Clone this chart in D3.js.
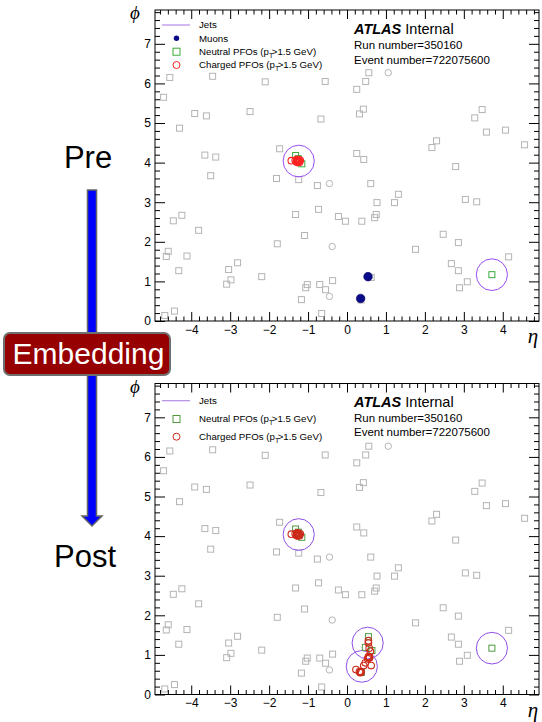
<!DOCTYPE html>
<html><head><meta charset="utf-8">
<script src="https://cdn.jsdelivr.net/npm/d3@7"></script>
<style>
html,body{margin:0;padding:0;background:#fff;}
svg{display:block;font-family:"Liberation Sans",Arial,Helvetica,sans-serif;}
</style></head>
<body>
<svg id="c" width="542" height="722"></svg>
<script>
// ---------------- data ----------------
const etaDomain = [-4.93, 4.93];
const phiDomain = [0, 7.854];
const xTickLabels = [-4, -3, -2, -1, 0, 1, 2, 3, 4];
const yTickLabels = [0, 1, 2, 3, 4, 5, 6, 7];
const jetRadius = 0.4;

// low-pT neutral PFOs (grey squares), common to both events
const greyNeutral = [
 [-4.55,6.15],[-3.45,6.18],[-2.10,6.04],[-0.56,6.05],[0.56,6.27],[0.48,6.05],[0.25,5.85],
 [-4.71,5.65],[-3.91,5.24],[-3.61,5.18],[-2.49,5.29],[-0.67,5.10],[0.42,5.35],[0.32,5.23],
 [3.47,5.34],[3.28,5.13],[-4.30,4.87],[3.58,4.77],[4.07,4.82],[4.56,4.45],[2.30,4.55],
 [2.18,4.38],[-1.73,4.35],[-3.65,4.19],[-3.37,4.14],[0.25,4.23],[0.43,4.08],[2.79,3.90],
 [-3.50,3.67],[-1.81,3.60],[-1.24,3.57],[-0.76,3.42],[0.61,3.47],[1.32,3.20],[0.77,2.99],
 [1.22,2.99],[3.04,3.07],[3.33,3.01],[-0.73,2.82],[-1.32,2.69],[-0.22,2.64],[-0.04,2.52],
 [0.38,2.52],[0.75,2.69],[0.71,2.61],[-4.24,2.67],[-4.46,2.53],[-3.81,2.29],[-1.09,2.16],
 [-1.79,1.95],[2.47,2.19],[2.86,1.98],[1.76,1.81],[-4.64,1.63],[-4.59,1.76],[-4.11,1.64],
 [4.15,1.62],[-2.81,1.47],[2.68,1.45],[-3.04,1.30],[-4.32,1.27],[2.86,1.27],[-2.19,1.12],
 [-2.98,1.04],[-3.09,0.93],[-1.02,0.92],[-1.06,0.84],[-0.70,0.92],[-0.55,0.79],[-0.37,1.02],
 [-1.17,0.54],[3.09,0.99],[2.89,0.84],[-4.68,0.14],[-4.43,0.25],[-0.65,0.19]
];
// low-pT charged PFOs (grey circles)
const greyCharged = [[1.06,6.27],[-0.45,3.47],[-0.38,1.88],[-0.45,0.62]];
// grey PFOs under the muons (pre only)
const preGreyNeutral = [[0.62,1.10],[0.36,0.53]];

// jets
const preJets = [[-1.24,4.04],[3.72,1.17]];
const postJets = [[-1.24,4.04],[0.53,1.30],[0.38,0.71],[3.72,1.17]];

// muons (pre only)
const muons = [[0.54,1.12],[0.35,0.57]];

// hard PFOs common to both
const hardNeutral = [[-1.32,4.18],[-1.25,4.10],[-1.16,3.97],[3.72,1.17]];
const hardCharged = [[-1.43,4.05],[-1.33,4.06],[-1.28,4.08],[-1.24,4.03],[-1.20,4.06],[-1.22,4.01],
 [-1.30,4.02],[-1.26,4.05],[-1.27,4.00],[-1.23,4.07],[-1.29,4.05]];
// hard PFOs from the embedded objects (post only)
const postNeutral = [[0.55,1.46],[0.47,1.19],[0.64,1.11],[0.37,0.56]];
const postCharged = [[0.55,1.36],[0.55,1.30],[0.57,1.17],[0.60,1.09],[0.57,0.95],[0.53,0.90],[0.56,0.92],
 [0.58,0.93],[0.55,0.96],[0.47,0.80],[0.43,0.73],[0.62,0.73],[0.23,0.63],[0.32,0.58],[0.36,0.56],
 [0.34,0.55],[0.35,0.58]];

const runText = "Run number=350160";
const eventText = "Event number=722075600";

// ---------------- drawing ----------------
const svg = d3.select("#c");

function drawPanel(cfg){
  const g = svg.append("g");
  const x = d3.scaleLinear().domain(etaDomain).range([155, 539]);
  const y = d3.scaleLinear().domain(phiDomain).range([cfg.y1, cfg.y0]);
  const clipId = "clip" + cfg.id;
  g.append("clipPath").attr("id", clipId).append("rect")
    .attr("x", 155).attr("y", cfg.y0).attr("width", 384).attr("height", cfg.y1 - cfg.y0);
  const plot = g.append("g").attr("clip-path", `url(#${clipId})`);

  const sq = 6;
  function squares(data, color){
    plot.append("g").selectAll("rect").data(data).join("rect")
      .attr("x", d => x(d[0]) - sq/2).attr("y", d => y(d[1]) - sq/2)
      .attr("width", sq).attr("height", sq)
      .attr("fill", "none").attr("stroke", color).attr("stroke-width", 1);
  }
  function circles(data, color, r, w){
    plot.append("g").selectAll("circle").data(data).join("circle")
      .attr("cx", d => x(d[0])).attr("cy", d => y(d[1])).attr("r", r)
      .attr("fill", "none").attr("stroke", color).attr("stroke-width", w || 1);
  }
  squares(greyNeutral.concat(cfg.extraGrey || []), "#b4b4b4");
  circles(greyCharged, "#b4b4b4", 3.2);
  // jets
  plot.append("g").selectAll("ellipse").data(cfg.jets).join("ellipse")
    .attr("cx", d => x(d[0])).attr("cy", d => y(d[1]))
    .attr("rx", x(jetRadius) - x(0)).attr("ry", y(0) - y(jetRadius))
    .attr("fill", "none").attr("stroke", cfg.jetColor).attr("stroke-width", 1);
  squares(cfg.neutral, cfg.green);
  circles(cfg.charged, cfg.red, 3.3, 1.1);
  if (cfg.muons){
    plot.append("g").selectAll("circle").data(cfg.muons).join("circle")
      .attr("cx", d => x(d[0])).attr("cy", d => y(d[1])).attr("r", 4.3)
      .attr("fill", "#0b0b8a").attr("stroke", "#000060").attr("stroke-width", 0.6);
  }

  // frame
  g.append("rect").attr("x", 155).attr("y", cfg.y0).attr("width", 384).attr("height", cfg.y1 - cfg.y0)
    .attr("fill", "none").attr("stroke", "#000").attr("stroke-width", 1);

  const xMinor = d3.range(-4.8, 4.81, 0.2).filter(v => Math.abs(v - Math.round(v)) > 0.01);
  const yMinor = d3.range(0, 7.81, 0.2).filter(v => Math.abs(v - Math.round(v)) > 0.01);

  function axisG(axis, tx, ty){
    const a = g.append("g").attr("transform", `translate(${tx},${ty})`).call(axis);
    a.select(".domain").remove();
    a.selectAll("line").attr("stroke", "#000").attr("stroke-width", 1);
    a.selectAll("text").attr("font-family", '"Liberation Sans",Arial,sans-serif').attr("font-size", 12).attr("fill", "#000");
    return a;
  }
  const fmt = d => d < 0 ? "\u2212" + Math.abs(d) : String(d);
  // bottom
  axisG(d3.axisBottom(x).tickValues(xTickLabels).tickSize(-9).tickPadding(4).tickFormat(fmt), 0, cfg.y1);
  axisG(d3.axisBottom(x).tickValues(xMinor).tickSize(-4.5).tickFormat(""), 0, cfg.y1);
  // top
  axisG(d3.axisTop(x).tickValues(xTickLabels).tickSize(-9).tickFormat(""), 0, cfg.y0);
  axisG(d3.axisTop(x).tickValues(xMinor).tickSize(-4.5).tickFormat(""), 0, cfg.y0);
  // left
  axisG(d3.axisLeft(y).tickValues(yTickLabels).tickSize(-10).tickPadding(4).tickFormat(d => String(d)), 155, 0);
  axisG(d3.axisLeft(y).tickValues(yMinor).tickSize(-5).tickFormat(""), 155, 0);
  // right
  axisG(d3.axisRight(y).tickValues(yTickLabels).tickSize(-10).tickFormat(""), 539, 0);
  axisG(d3.axisRight(y).tickValues(yMinor).tickSize(-5).tickFormat(""), 539, 0);

  // axis titles
  g.append("text").attr("x", 135).attr("y", cfg.y0 + 9).attr("text-anchor", "middle")
    .attr("font-family", '"Liberation Serif","DejaVu Serif",serif').attr("font-style", "italic")
    .attr("font-size", 19).text("\u03d5");
  g.append("text").attr("x", 533).attr("y", cfg.y1 + 22).attr("text-anchor", "middle")
    .attr("font-family", '"Liberation Serif","DejaVu Serif",serif').attr("font-style", "italic")
    .attr("font-size", 21).text("\u03b7");

  // legend
  const lg = g.append("g").attr("font-size", 9.7).attr("fill", "#000");
  cfg.legend.forEach(e => {
    if (e.type === "line"){
      lg.append("line").attr("x1", 162).attr("x2", 190).attr("y1", e.y).attr("y2", e.y)
        .attr("stroke", "#b48ce8").attr("stroke-width", 1.2);
    } else if (e.type === "muon"){
      lg.append("circle").attr("cx", 176.5).attr("cy", e.y).attr("r", 2.7).attr("fill", "#0b0b8a");
    } else if (e.type === "sq"){
      lg.append("rect").attr("x", 176.5 - 3.5).attr("y", e.y - 3.5).attr("width", 7).attr("height", 7)
        .attr("fill", "none").attr("stroke", cfg.green);
    } else {
      lg.append("circle").attr("cx", 176.5).attr("cy", e.y).attr("r", 3.5)
        .attr("fill", "none").attr("stroke", cfg.red);
    }
    const t = lg.append("text").attr("x", 199).attr("y", e.y + 3.4);
    if (e.pt){
      t.append("tspan").text(e.label + " (p");
      t.append("tspan").attr("font-size", 7).attr("dy", 3).text("T");
      t.append("tspan").attr("dy", -3).attr("dx", -1.5).text(">1.5 GeV)");
    } else {
      t.text(e.label);
    }
  });

  // ATLAS label
  const at = g.append("text").attr("x", 354).attr("y", cfg.atlasY).attr("font-size", 14.5).attr("fill", "#000");
  at.append("tspan").attr("font-weight", "bold").attr("font-style", "italic").text("ATLAS");
  at.append("tspan").text(" Internal");
  g.append("text").attr("x", 354).attr("y", cfg.runY).attr("font-size", 11.5).text(runText);
  g.append("text").attr("x", 354).attr("y", cfg.evtY).attr("font-size", 11.5).text(eventText);
}

drawPanel({
  id: "pre", y0: 10, y1: 321,
  jets: preJets, muons: muons, extraGrey: preGreyNeutral,
  neutral: hardNeutral, charged: hardCharged,
  jetColor: "#9a4cf5", green: "#3daa3d", red: "#ff2222",
  legend: [
    {type: "line", y: 25, label: "Jets"},
    {type: "muon", y: 38.3, label: "Muons"},
    {type: "sq", y: 51.7, label: "Neutral PFOs", pt: true},
    {type: "circ", y: 65, label: "Charged PFOs", pt: true}
  ],
  atlasY: 34, runY: 48.5, evtY: 63.5
});

drawPanel({
  id: "post", y0: 383.5, y1: 694.5,
  jets: postJets, muons: null, extraGrey: [],
  neutral: hardNeutral.concat(postNeutral), charged: hardCharged.concat(postCharged),
  jetColor: "#8f4fe6", green: "#4f9a3f", red: "#cc2a1a",
  legend: [
    {type: "line", y: 400.7, label: "Jets"},
    {type: "sq", y: 419, label: "Neutral PFOs", pt: true},
    {type: "circ", y: 436.7, label: "Charged PFOs", pt: true}
  ],
  atlasY: 406.7, runY: 422, evtY: 435.5
});

// ---------------- left annotation ----------------
const ann = svg.append("g");
ann.append("text").attr("x", 88).attr("y", 168).attr("text-anchor", "middle")
  .attr("font-size", 31).attr("fill", "#000").text("Pre");
ann.append("path")
  .attr("d", "M87.5,190 L96.5,190 L96.5,516 L102,516 L92,526 L82,516 L87.5,516 Z")
  .attr("fill", "#0000ff").attr("stroke", "#666").attr("stroke-width", 1.5).attr("stroke-linejoin", "miter");
ann.append("rect").attr("x", 4).attr("y", 333).attr("width", 166).attr("height", 42).attr("rx", 6)
  .attr("fill", "#960000").attr("stroke", "#6f6f6f").attr("stroke-width", 2);
ann.append("text").attr("x", 88.5).attr("y", 364).attr("text-anchor", "middle")
  .attr("font-size", 30).attr("fill", "#fff").text("Embedding");
ann.append("text").attr("x", 85).attr("y", 567).attr("text-anchor", "middle")
  .attr("font-size", 31).attr("fill", "#000").text("Post");
</script>
</body></html>
